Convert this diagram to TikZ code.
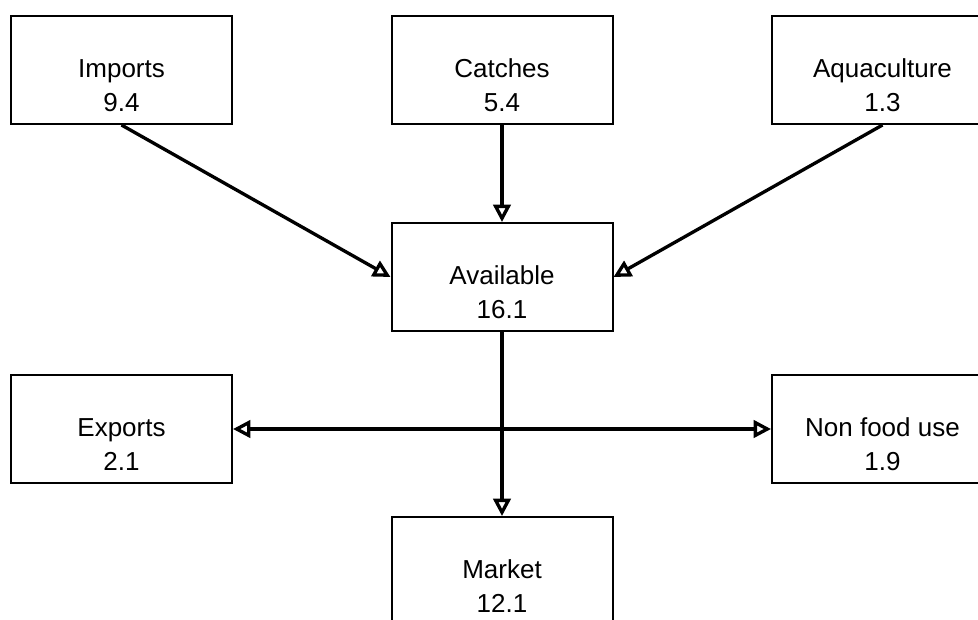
\documentclass[tikz,border=0pt]{standalone}
\usepackage{fontspec}
\setmainfont{Liberation Sans}
\usetikzlibrary{arrows.meta}

\begin{document}
\begin{tikzpicture}[x=0.75pt, y=-0.75pt,
		>={Triangle[open, length=13pt, width=13pt]},
		box/.style={draw, line width=1.5pt, minimum width=165.75pt, minimum height=81pt, inner sep=0pt},
		lbl/.style={align=center, font=\fontsize{19.5}{25.5}\selectfont, inner sep=0pt, anchor=base},
		flow/.style={line width=2.5pt, ->}]
		\useasboundingbox (0,0) rectangle (978,619);
		\clip (0,0) rectangle (978,619);
		
		\node[box] (imp) at (121.5,70) {};
		\node[box] (cat) at (502,70) {};
		\node[box] (aqu) at (882.5,70) {};
		\node[box] (avl) at (502,277) {};
		\node[box] (exp) at (121.5,429) {};
		\node[box] (nfu) at (882.5,429) {};
		\node[box] (mkt) at (502,571) {};
		
		\node[lbl] (imp-t) at ([yshift=-72pt]imp.north) {Imports\\9.4};
		\node[lbl] (cat-t) at ([yshift=-72pt]cat.north) {Catches\\5.4};
		\node[lbl] (aqu-t) at ([yshift=-72pt]aqu.north) {Aquaculture\\1.3};
		\node[lbl] (avl-t) at ([yshift=-72pt]avl.north) {Available\\16.1};
		\node[lbl] (exp-t) at ([yshift=-72pt]exp.north) {Exports\\2.1};
		\node[lbl] (nfu-t) at ([yshift=-72pt]nfu.north) {Non food use\\1.9};
		\node[lbl] (mkt-t) at ([yshift=-72pt]mkt.north) {Market\\12.1};
		
		\path []
		(imp.south) edge[flow] (avl.west)
		(cat.south) edge[flow] (avl.north)
		(aqu.south) edge[flow] (avl.east)
		(avl.south) edge[flow] (mkt.north)
		(exp.east) edge[flow, <->] (nfu.west);
		
	\end{tikzpicture}
\end{document}
